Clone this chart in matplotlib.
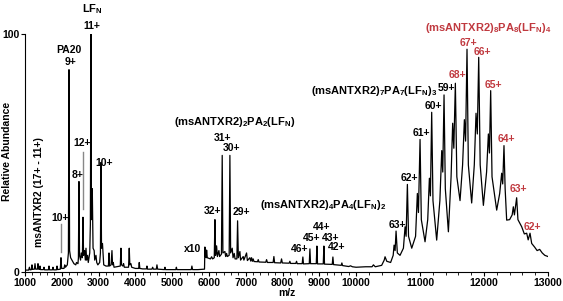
import numpy as np
import matplotlib
matplotlib.use("Agg")
import matplotlib.pyplot as plt
from matplotlib.ticker import FixedLocator

plt.rcParams['font.family'] = ['Liberation Sans', 'DejaVu Sans']
plt.rcParams['mathtext.fontset'] = 'custom'
plt.rcParams['mathtext.rm'] = 'Liberation Sans'
plt.rcParams['mathtext.default'] = 'regular'

# spectrum trace: (m/z, relative abundance)
# 1000-5900, unscaled
trace_low = [
    (1000, 0.8), (1100, 0.8), (1120, 2.0), (1140, 0.9), (1175, 1.0), (1190, 3.0), (1205, 1.1),
    (1255, 1.2), (1272, 3.5), (1290, 1.2), (1338, 1.2), (1353, 3.5), (1370, 1.2),
    (1395, 1.1), (1408, 2.5), (1422, 1.0), (1500, 1.0), (1516, 2.0), (1532, 0.9),
    (1636, 0.9), (1652, 2.5), (1668, 0.9), (1745, 0.9), (1761, 2.0), (1777, 0.9),
    (1854, 0.9), (1870, 2.5), (1886, 1.0), (1960, 1.2), (1978, 6.0), (1995, 1.5),
    (2060, 1.5), (2080, 3.0), (2100, 2.0), (2150, 3.0), (2180, 8.0), (2196, 85.0), (2212, 9.0),
    (2240, 6.0), (2277, 5.0), (2330, 3.5), (2380, 3.0), (2400, 4.0), (2440, 3.5), (2452, 6.0),
    (2467, 38.0), (2482, 7.0), (2510, 5.0), (2530, 8.0), (2560, 6.0), (2576, 23.0), (2592, 7.0),
    (2620, 9.0), (2640, 5.0), (2658, 10.0), (2675, 5.0), (2700, 7.0), (2720, 4.0), (2760, 8.0),
    (2777, 20.0), (2793, 100.0), (2806, 22.0), (2829, 35.0), (2850, 10.0), (2880, 9.0),
    (2895, 5.0), (2929, 7.0), (2950, 4.0), (2980, 3.0), (3030, 4.0), (3050, 8.0), (3065, 46.0),
    (3080, 10.0), (3106, 12.0), (3140, 3.0), (3200, 2.5), (3268, 2.5), (3283, 8.0), (3298, 2.5),
    (3340, 3.0), (3364, 9.0), (3380, 3.0), (3400, 4.0), (3420, 2.0), (3590, 2.5), (3608, 10.0),
    (3625, 3.0), (3660, 2.5), (3680, 3.5), (3700, 2.0), (3815, 2.0), (3834, 10.0), (3850, 3.0),
    (3880, 3.5), (3900, 2.0), (4000, 1.5), (4090, 1.5), (4106, 4.0), (4122, 1.5), (4200, 1.3),
    (4300, 1.3), (4315, 2.5), (4330, 1.2), (4450, 1.2), (4470, 2.0), (4490, 1.2), (4570, 1.2),
    (4587, 3.0), (4605, 1.2), (4790, 1.0), (4804, 2.0), (4820, 1.0), (5000, 1.0), (5100, 1.0),
    (5115, 2.0), (5130, 1.0), (5300, 1.0), (5520, 1.0), (5537, 2.5), (5555, 1.0), (5700, 1.0),
    (5880, 1.2),
]

# 5890-9900, shown x10
trace_x10 = [
    (5890, 10.5), (5905, 6.5), (5925, 6.0), (5937, 9.2), (5955, 6.0), (6040, 5.5), (6073, 6.4),
    (6100, 5.5), (6145, 6.0), (6163, 22.0), (6180, 7.0), (6208, 11.0), (6230, 6.5), (6271, 9.0),
    (6290, 6.5), (6340, 7.5), (6361, 49.0), (6380, 8.0), (6434, 8.6), (6455, 6.5), (6480, 7.8),
    (6500, 6.5), (6550, 7.0), (6570, 49.0), (6590, 8.0), (6633, 10.0), (6655, 6.0), (6688, 7.8),
    (6710, 5.5), (6760, 5.5), (6779, 21.5), (6800, 6.0), (6842, 8.6), (6860, 5.0), (6932, 6.5),
    (6950, 5.0), (7023, 8.0), (7045, 4.8), (7113, 6.0), (7135, 4.6), (7159, 6.0), (7180, 4.5),
    (7203, 5.5), (7225, 4.4), (7320, 4.3), (7340, 5.2), (7360, 4.2), (7545, 4.1), (7567, 5.2),
    (7590, 4.0), (7745, 4.0), (7766, 6.5), (7785, 3.9), (7950, 3.8), (7974, 5.5), (7995, 3.8),
    (8180, 3.7), (8200, 4.5), (8220, 3.6), (8360, 3.6), (8382, 4.5), (8400, 3.5), (8535, 3.5),
    (8554, 6.3), (8570, 3.4), (8728, 3.5), (8745, 9.7), (8762, 3.5), (8918, 3.5), (8935, 10.9),
    (8952, 3.4), (9108, 3.4), (9125, 10.9), (9142, 3.3), (9352, 3.2), (9370, 6.3), (9388, 3.1),
    (9596, 2.8), (9614, 3.8), (9632, 2.7), (9800, 2.3), (9850, 2.6), (9900, 2.2),
]

# 10000-13000, oligomer envelope
trace_high = [
    (10000, 2.0), (10150, 2.2), (10250, 2.2), (10271, 3.0), (10300, 2.2), (10400, 2.8),
    (10440, 5.0), (10453, 6.4), (10480, 4.5), (10540, 4.0), (10580, 7.0), (10594, 11.3),
    (10610, 9.0), (10625, 17.2), (10645, 8.0), (10687, 7.0), (10740, 10.0), (10766, 19.0),
    (10782, 15.0), (10802, 36.8), (10820, 15.0), (10870, 10.0), (10930, 15.0), (10958, 33.0),
    (10975, 25.0), (11000, 55.7), (11020, 22.0), (11078, 12.7), (11120, 22.0), (11146, 39.4),
    (11162, 32.0), (11182, 67.1), (11202, 30.0), (11260, 13.4), (11310, 30.0), (11339, 51.0),
    (11355, 42.0), (11375, 74.4), (11395, 35.0), (11443, 16.9), (11485, 40.0), (11510, 62.5),
    (11528, 52.0), (11552, 79.3), (11575, 40.0), (11625, 30.0), (11665, 45.0), (11693, 64.0),
    (11712, 55.0), (11734, 93.6), (11755, 45.0), (11807, 29.0), (11848, 45.0), (11875, 66.7),
    (11895, 58.0), (11917, 90.2), (11940, 45.0), (11990, 28.0), (12040, 42.0), (12068, 58.0),
    (12085, 50.0), (12104, 76.2), (12125, 40.0), (12198, 26.0), (12245, 33.0), (12276, 41.5),
    (12292, 37.0), (12312, 53.1), (12330, 35.0), (12354, 21.8), (12400, 22.0), (12440, 24.0),
    (12458, 27.4), (12475, 24.0), (12510, 31.2), (12530, 22.0), (12589, 19.0), (12630, 16.0),
    (12667, 16.3), (12690, 13.5), (12719, 16.3), (12745, 12.0), (12790, 10.5), (12830, 9.0),
    (12870, 9.5), (12910, 8.0), (12950, 7.0), (13000, 6.5),
]

# peak labels: (text, m/z, abundance)
labels_black = [
    ('11+', 2820, 103.4), ('PA20', 2196, 93.3), ('9+', 2250, 88.2), ('12+', 2550, 54.2),
    ('8+', 2426, 40.8), ('10+', 1951, 22.7), ('10+', 3146, 45.8),
    ('31+', 6380, 56.3), ('30+', 6624, 52.0), ('32+', 6108, 25.6), ('29+', 6869, 25.2),
    ('44+', 9070, 18.9), ('45+', 8798, 14.3), ('43+', 9314, 14.3), ('46+', 8472, 9.7),
    ('42+', 9477, 10.5), ('59+', 11406, 77.3), ('60+', 11203, 69.7), ('61+', 11016, 58.4),
    ('62+', 10828, 39.5), ('63+', 10640, 19.7), ('x10', 5565, 9.7),
]
labels_red = [
    ('67+', 11750, 96.2), ('66+', 11969, 92.4), ('68+', 11578, 82.8), ('65+', 12140, 78.6),
    ('64+', 12344, 55.9), ('63+', 12531, 34.9), ('62+', 12750, 18.9),
]
complexes = [
    ('LF$_N$', 2820, 110.5, 'black'),
    ('(msANTXR2)$_2$PA$_2$(LF$_N$)', 6706, 63.0, 'black'),
    ('(msANTXR2)$_4$PA$_4$(LF$_N$)$_2$', 9097, 28.2, 'black'),
    ('(msANTXR2)$_7$PA$_7$(LF$_N$)$_3$', 10281, 76.0, 'black'),
    ('(msANTXR2)$_8$PA$_8$(LF$_N$)$_4$', 12062, 102.5, '#c0393f'),
]
# grey leader lines: (m/z, from, to)
leaders = [(1978, 8.4, 20.0), (2576, 26.5, 50.4)]

# the m/z axis is stretched above 10000
K = 64 / 36.8


def fwd(x):
    x = np.asarray(x, dtype=float)
    return np.where(x <= 10000, x, 10000 + (x - 10000) * K)


def inv(y):
    y = np.asarray(y, dtype=float)
    return np.where(y <= 10000, y, 10000 + (y - 10000) / K)


trace = trace_low + trace_x10 + trace_high
mz = np.array([p[0] for p in trace])
ab = np.array([p[1] for p in trace])

fig = plt.figure(figsize=(5.63, 3.01), dpi=100)
ax = fig.add_axes([25 / 563, 29 / 301, 523 / 563, 238 / 301])
ax.set_xscale('function', functions=(fwd, inv))

ax.plot(mz, ab, color='black', lw=0.9)
for x, y0, y1 in leaders:
    ax.plot([x, x], [y0, y1], color='#888888', lw=1.0)

ax.set_xlim(1000, 13000)
ax.set_ylim(0, 100)
ax.spines['top'].set_visible(False)
ax.spines['right'].set_visible(False)
ax.xaxis.set_major_locator(FixedLocator(np.arange(1000, 13001, 1000)))
ax.xaxis.set_minor_locator(FixedLocator(np.arange(1000, 13001, 200)))
ax.yaxis.set_major_locator(FixedLocator([0, 100]))
ax.tick_params(axis='both', which='major', length=3, width=0.8, pad=1, labelsize=7.5)
ax.tick_params(axis='x', which='minor', length=2, width=0.6)
for t in ax.get_xticklabels() + ax.get_yticklabels():
    t.set_fontweight('bold')
ax.set_xlabel('m/z', fontsize=7.5, fontweight='bold', labelpad=0)

fig.text(7.5 / 563, 1 - 151 / 301, 'Relative Abundance', rotation=90, fontsize=7.5,
         fontweight='bold', ha='center', va='center')
ax.text(1389, 33.6, 'msANTXR2 (17+ - 11+)', rotation=90, fontsize=7.5,
        fontweight='bold', ha='center', va='center')

for s, x, y in labels_black:
    ax.text(x, y, s, fontsize=7.5, fontweight='bold', ha='center', va='center')
for s, x, y in labels_red:
    ax.text(x, y, s, fontsize=7.5, fontweight='bold', ha='center', va='center', color='#c0393f')
for s, x, y, c in complexes:
    ax.text(x, y, s, fontsize=8, fontweight='bold', ha='center', va='center', color=c)

fig.savefig('out.png', dpi=100)
